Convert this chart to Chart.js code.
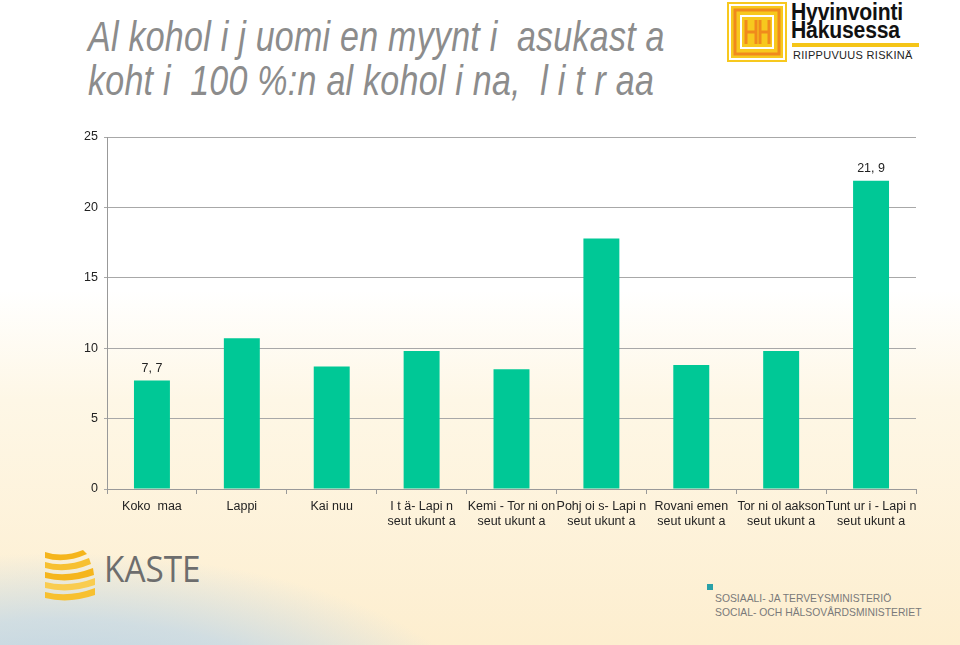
<!DOCTYPE html>
<html><head><meta charset="utf-8">
<script src="https://cdn.jsdelivr.net/npm/chart.js@4/dist/chart.umd.min.js"></script>
<style>
html,body{margin:0;padding:0;}
body{width:960px;height:645px;position:relative;overflow:hidden;font-family:"Liberation Sans",Arial,sans-serif;
background:
 radial-gradient(ellipse 560px 240px at 60px 740px, rgba(165,200,228,0.9) 0%, rgba(185,212,235,0.65) 50%, rgba(255,255,255,0) 78%),
 linear-gradient(180deg,#ffffff 0%,#ffffff 45%,#fef7e6 62%,#fdeecf 100%);}
#wrap{position:absolute;left:0;top:0;width:960px;height:645px;}
#title{position:absolute;left:88px;top:15px;font-family:"Liberation Sans Narrow","Liberation Sans",Arial,sans-serif;font-style:italic;font-size:42px;line-height:44px;color:#8c8c8c;white-space:pre;letter-spacing:0.3px;transform:scaleX(0.81);transform-origin:0 0;}
.t{position:absolute;white-space:pre;}
</style></head><body>
<div id="title">Al kohol i j uomi en myynt i  asukast a
koht i  100 %:n al kohol i na,  l i t r aa</div>

<svg class="t" style="left:727px;top:2px" width="60" height="60" viewBox="0 0 60 60">
 <rect x="0" y="0" width="60" height="60" fill="#f7c81e"/>
 <rect x="3" y="3" width="54" height="54" fill="none" stroke="#fff" stroke-width="2"/>
 <rect x="8" y="8" width="44" height="44" fill="none" stroke="#f08a1c" stroke-width="3"/>
 <rect x="14" y="14" width="32" height="32" fill="none" stroke="#fff" stroke-width="2"/>
 <path d="M19 18 V42 M19 30 H29 M29 18 V42 M33 18 V42 M33 30 H42 M42 18 V42" stroke="#f08a1c" stroke-width="3" fill="none"/>
</svg>
<div class="t" style="left:791px;top:3px;font-size:23px;font-weight:bold;color:#111;line-height:18px;letter-spacing:-0.2px;transform:scaleX(0.92);transform-origin:0 0;">Hyvinvointi<br>Hakusessa</div>
<div class="t" style="left:792px;top:43px;width:127px;height:4px;background:#f5c518;"></div>
<div class="t" style="left:793px;top:49px;font-size:11px;color:#222;letter-spacing:0.3px;">RIIPPUVUUS RISKINÄ</div>

<svg class="t" style="left:43px;top:548px" width="54" height="54" viewBox="0 0 54 54">
 <path d="M2 4 Q20 10 40 2 L44 6 Q22 16 2 10Z" fill="#f5b51c"/>
 <path d="M2 14 Q22 20 46 10 L48 16 Q24 26 2 20Z" fill="#f7c030"/>
 <path d="M2 24 Q24 30 50 20 L51 27 Q26 36 2 30Z" fill="#f5b51c"/>
 <path d="M2 34 Q26 40 52 30 L52 37 Q26 46 2 40Z" fill="#f9cc50"/>
 <path d="M2 44 Q26 50 52 40 L52 47 Q26 56 2 50Z" fill="#f7c030"/>
</svg>
<div class="t" style="left:104px;top:542px;font-size:37px;color:#6d6d6d;letter-spacing:0px;font-family:'Open Sans','Liberation Sans',sans-serif;transform:scaleX(0.9);transform-origin:0 0;">KASTE</div>

<div class="t" style="left:707px;top:584px;width:6px;height:6px;background:#2aa1a8;"></div>
<div class="t" style="left:715px;top:591px;font-size:11.5px;line-height:14px;color:#7a7a7a;font-family:'Liberation Sans Narrow','Liberation Sans',sans-serif;transform:scaleX(0.9);transform-origin:0 0;">SOSIAALI- JA TERVEYSMINISTERIÖ<br>SOCIAL- OCH HÄLSOVÅRDSMINISTERIET</div>

<div id="wrap"><canvas id="c" width="960" height="645"></canvas></div>
<script>
const categories = [
 ["Koko  maa"], ["Lappi"], ["Kai nuu"], ["I t ä- Lapi n","seut ukunt a"], ["Kemi - Tor ni on","seut ukunt a"],
 ["Pohj oi s- Lapi n","seut ukunt a"], ["Rovani emen","seut ukunt a"], ["Tor ni ol aakson","seut ukunt a"], ["Tunt ur i - Lapi n","seut ukunt a"]
];
const values = [7.7, 10.7, 8.7, 9.8, 8.5, 17.8, 8.8, 9.8, 21.9];
const shownLabels = ["7, 7", "", "", "", "", "", "", "", "21, 9"];
const yTicks = [0, 5, 10, 15, 20, 25];

const labelPlugin = {
 id:'vals',
 afterDatasetsDraw(chart){
  const ctx = chart.ctx; const meta = chart.getDatasetMeta(0);
  ctx.save(); ctx.fillStyle='#222'; ctx.font='12.5px "Liberation Sans", Arial'; ctx.textAlign='center'; ctx.textBaseline='bottom';
  meta.data.forEach((b,i)=>{ if(shownLabels[i]) ctx.fillText(shownLabels[i], b.x, b.y-6); });
  ctx.restore();
 }
};

new Chart(document.getElementById('c'), {
 type:'bar',
 data:{labels:categories, datasets:[{data:values, backgroundColor:'#00c896', barPercentage:0.8, categoryPercentage:0.5}]},
 options:{
  responsive:false, animation:false, devicePixelRatio:1,
  layout:{padding:{top:137, right:44, left:0, bottom:0}},
  plugins:{legend:{display:false}, tooltip:{enabled:false}},
  scales:{
   x:{
    grid:{display:true, drawOnChartArea:false, drawTicks:true, tickLength:5, color:'#999', offset:true},
    border:{display:true, color:'#999'},
    ticks:{color:'#222', font:{family:'"Liberation Sans", Arial', size:12.5}, padding:5, maxRotation:0, autoSkip:false},
    afterFit(s){ s.height = 156; }
   },
   y:{
    min:0, max:25,
    afterBuildTicks(s){ s.ticks = yTicks.map(v=>({value:v})); },
    grid:{color:'#a8a8a8', drawTicks:true, tickLength:3},
    border:{display:true, color:'#999'},
    ticks:{color:'#222', font:{family:'"Liberation Sans", Arial', size:12.5}, padding:6},
    afterFit(s){ s.width = 107; }
   }
  }
 },
 plugins:[labelPlugin]
});
</script>
</body></html>
